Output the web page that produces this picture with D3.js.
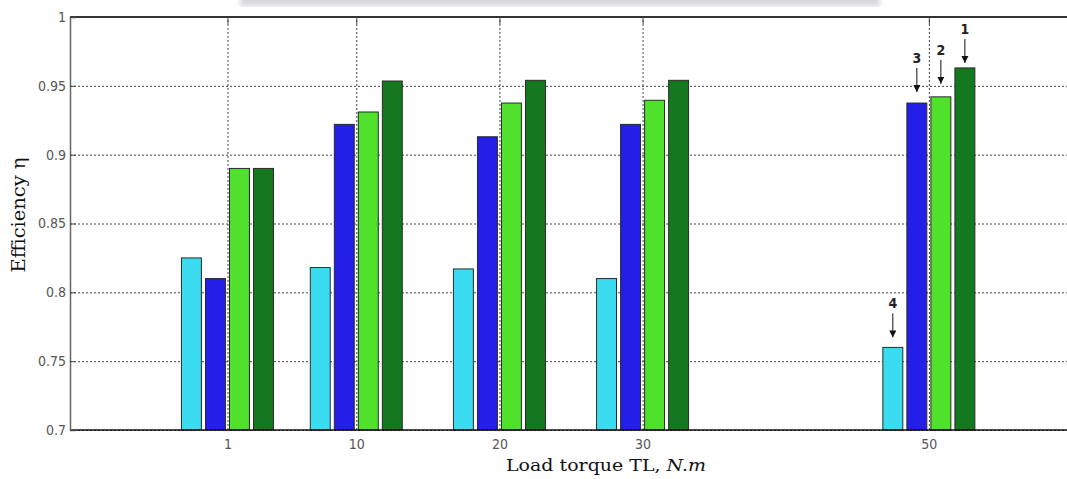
<!DOCTYPE html>
<html>
<head>
<meta charset="utf-8">
<script src="https://cdn.jsdelivr.net/npm/d3@7"></script>
<style>
  body { margin: 0; background: #fff; }
  svg { display: block; }
</style>
</head>
<body>
<script>
// load torque values (N.m) on the x axis
var loads = [1, 10, 20, 30, 50];
// efficiency per configuration
var eff4 = [0.825, 0.818, 0.817, 0.810, 0.760];
var eff3 = [0.810, 0.922, 0.913, 0.922, 0.9375];
var eff2 = [0.890, 0.931, 0.9375, 0.9395, 0.942];
var eff1 = [0.890, 0.9535, 0.954, 0.954, 0.963];
var seriesNames = ["4", "3", "2", "1"];
var yTicks = [0.7, 0.75, 0.8, 0.85, 0.9, 0.95, 1];
var yTickLabels = ["0.7", "0.75", "0.8", "0.85", "0.9", "0.95", "1"];
var xTickLabels = ["1", "10", "20", "30", "50"];

function init () {
  'use strict';
  var w = 1067, h = 479;
  var left = 70, top = 17, bottom = 430, right = 1072;
  var series = [eff4, eff3, eff2, eff1];
  var colors = ["#3cdcf0", "#231ee8", "#50e12d", "#14781e"];
  var tickFont = "'Liberation Sans Narrow', 'DejaVu Sans Condensed', 'Liberation Sans', sans-serif";

  var svg = d3.select("body").append("svg")
    .attr("width", w)
    .attr("height", h);

  var defs = svg.append("defs");
  defs.append("filter").attr("id", "blur")
    .append("feGaussianBlur").attr("stdDeviation", 2.5);
  defs.append("marker")
    .attr("id", "head")
    .attr("viewBox", "0 0 10 10")
    .attr("refX", 10).attr("refY", 5)
    .attr("markerWidth", 7).attr("markerHeight", 8)
    .attr("markerUnits", "userSpaceOnUse")
    .attr("orient", "auto")
    .append("path")
    .attr("d", "M0,0 L10,5 L0,10 Z")
    .attr("fill", "#111");

  // faint remnant at the very top of the scan
  svg.append("rect")
    .attr("x", 240).attr("y", -4).attr("width", 640).attr("height", 10)
    .attr("fill", "#d8d8dc").attr("filter", "url(#blur)");

  var xScale = d3.scaleLinear().domain([-10, 60]).range([left, right]);
  var yScale = d3.scaleLinear().domain([0.7, 1]).range([bottom, top]);
  var inner = d3.scaleBand()
    .domain(d3.range(series.length))
    .range([-46, 46])
    .paddingInner(0.17);

  // grid
  svg.append("g")
    .attr("transform", "translate(" + left + ",0)")
    .call(d3.axisLeft(yScale).tickValues(yTicks).tickSize(-(right - left)).tickFormat(""))
    .call(function(g) {
      g.select(".domain").remove();
      g.selectAll("line").attr("stroke", "#444").attr("stroke-dasharray", "2,2");
    });
  svg.append("g")
    .attr("transform", "translate(0," + bottom + ")")
    .call(d3.axisBottom(xScale).tickValues(loads).tickSize(-(bottom - top)).tickFormat(""))
    .call(function(g) {
      g.select(".domain").remove();
      g.selectAll("line").attr("stroke", "#444").attr("stroke-dasharray", "2,2");
    });

  // bars
  series.forEach(function(vals, s) {
    svg.append("g")
      .selectAll("rect")
      .data(vals)
      .enter()
      .append("rect")
      .attr("x", function(d, i) { return xScale(loads[i]) + inner(s); })
      .attr("y", function(d) { return yScale(d); })
      .attr("width", inner.bandwidth())
      .attr("height", function(d) { return bottom - yScale(d); })
      .attr("fill", colors[s])
      .attr("stroke", "#2a2a2a")
      .attr("stroke-width", 1);
  });

  // frame
  svg.append("line")
    .attr("x1", left).attr("x2", w).attr("y1", top).attr("y2", top)
    .attr("stroke", "#333").attr("stroke-width", 2);
  svg.append("line")
    .attr("x1", left).attr("x2", w).attr("y1", bottom).attr("y2", bottom)
    .attr("stroke", "#111").attr("stroke-width", 1.5);

  // y axis with inward ticks
  svg.append("g")
    .attr("transform", "translate(" + left + ",0)")
    .call(d3.axisLeft(yScale).tickValues(yTicks)
      .tickFormat(function(d, i) { return yTickLabels[i]; })
      .tickSize(-6).tickPadding(4))
    .call(function(g) {
      g.select(".domain").attr("stroke", "#666").attr("stroke-width", 1.5);
      g.selectAll("line").attr("stroke", "#444");
      g.selectAll("text")
        .attr("fill", "#555")
        .style("font-family", tickFont)
        .style("font-size", "14px");
    });

  // x axis labels and top ticks
  svg.append("g")
    .attr("transform", "translate(0," + bottom + ")")
    .call(d3.axisBottom(xScale).tickValues(loads)
      .tickFormat(function(d, i) { return xTickLabels[i]; })
      .tickSize(0).tickPadding(9))
    .call(function(g) {
      g.select(".domain").remove();
      g.selectAll("text")
        .attr("fill", "#555")
        .style("font-family", tickFont)
        .style("font-size", "14px");
    });
  svg.append("g")
    .attr("transform", "translate(0," + top + ")")
    .call(d3.axisBottom(xScale).tickValues(loads).tickSize(7).tickFormat(""))
    .call(function(g) {
      g.select(".domain").remove();
      g.selectAll("line").attr("stroke", "#444");
    });

  // curve numbers over the 50 N.m group
  var last = loads.length - 1;
  var gaps = [10, 11, 13, 5];
  series.forEach(function(vals, s) {
    var cx = xScale(loads[last]) + inner(s) + inner.bandwidth() / 2;
    var tip = yScale(vals[last]) - gaps[s];
    svg.append("line")
      .attr("x1", cx).attr("x2", cx)
      .attr("y1", tip - 24).attr("y2", tip)
      .attr("stroke", "#111").attr("stroke-width", 1)
      .attr("marker-end", "url(#head)");
    svg.append("text")
      .attr("x", cx).attr("y", tip - 29)
      .attr("text-anchor", "middle")
      .style("font-family", tickFont)
      .style("font-weight", "bold")
      .style("font-size", "14px")
      .attr("fill", "#222")
      .text(seriesNames[s]);
  });

  // axis titles
  svg.append("text")
    .attr("transform", "translate(25,215) rotate(-90)")
    .attr("text-anchor", "middle")
    .attr("textLength", 115)
    .attr("lengthAdjust", "spacingAndGlyphs")
    .style("font-family", "'DejaVu Serif', serif")
    .style("font-size", "18px")
    .attr("fill", "#111")
    .text("Efficiency η");

  var xt = svg.append("text")
    .attr("x", 606).attr("y", 471)
    .attr("text-anchor", "middle")
    .attr("textLength", 200)
    .attr("lengthAdjust", "spacingAndGlyphs")
    .style("font-family", "'DejaVu Serif', serif")
    .style("font-size", "17px")
    .attr("fill", "#111");
  xt.append("tspan").text("Load torque TL, ");
  xt.append("tspan").style("font-style", "italic").text("N.m");
}

window.onload = init;
</script>
</body>
</html>
